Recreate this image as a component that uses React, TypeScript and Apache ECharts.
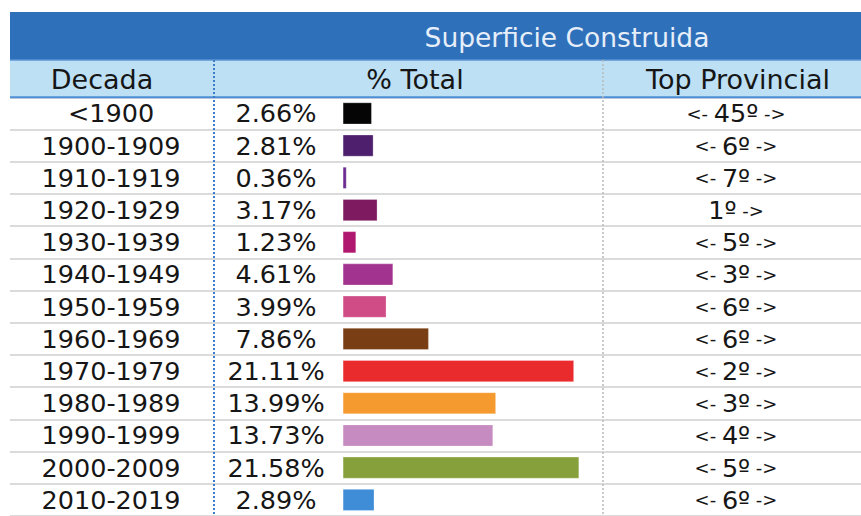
import React, { useEffect, useRef } from "react";
import * as echarts from "echarts";

const decades = [
  "<1900", "1900-1909", "1910-1919", "1920-1929", "1930-1939", "1940-1949",
  "1950-1959", "1960-1969", "1970-1979", "1980-1989", "1990-1999", "2000-2009", "2010-2019",
];
const shares = [2.66, 2.81, 0.36, 3.17, 1.23, 4.61, 3.99, 7.86, 21.11, 13.99, 13.73, 21.58, 2.89];
const ranks = [45, 6, 7, 1, 5, 3, 6, 6, 2, 3, 4, 5, 6];
const barColors = [
  "#050505", "#4e1f6c", "#6b2a8f", "#7e1b60", "#b0176f", "#a2338e", "#cf4c87",
  "#7a3e14", "#ea2b2e", "#f59a2e", "#c68bc0", "#86a13b", "#3e8dd6",
];
const headerTitle = "Superficie Construida";
const columnTitles = ["Decada", "% Total", "Top Provincial"];

const W = 861;
const H = 516;
const FONT = "DejaVu Sans";

export default function App() {
  const ref = useRef<HTMLDivElement>(null);

  useEffect(() => {
    if (!ref.current) return;
    const chart = echarts.init(ref.current, null, { renderer: "svg" });

    const tableLeft = 10;
    const headerBottom = 97.3;
    const rowH = 32.66;
    const zeroX = 342.7;
    const pxPerPct = 10.96;
    const gridWidth = W - tableLeft;
    const xMin = -(zeroX - tableLeft) / pxPerPct;
    const xMax = (W - zeroX) / pxPerPct;

    const pctLabels = shares.map((v) => v.toFixed(2) + "%");
    const textColor = "#161616";

    const option: any = {
      animation: false,
      backgroundColor: "#ffffff",
      grid: {
        left: tableLeft,
        top: headerBottom,
        width: gridWidth,
        height: rowH * decades.length,
        containLabel: false,
      },
      xAxis: {
        type: "value",
        min: xMin,
        max: xMax,
        show: false,
      },
      yAxis: [
        {
          type: "category",
          data: decades,
          inverse: true,
          position: "left",
          axisLine: { show: false },
          axisTick: { show: false, interval: 0 },
          splitLine: { show: true, interval: 0, lineStyle: { color: "#cfcfcf", width: 1.5 } },
          axisLabel: {
            inside: true,
            interval: 0,
            hideOverlap: false,
            margin: 111 - tableLeft,
            align: "center",
            fontFamily: FONT,
            fontSize: 25.5,
            color: textColor,
          },
        },
        {
          type: "category",
          data: pctLabels,
          inverse: true,
          position: "left",
          axisLine: { show: false },
          axisTick: { show: false },
          splitLine: { show: false },
          axisLabel: {
            inside: true,
            interval: 0,
            hideOverlap: false,
            margin: 276 - tableLeft,
            align: "center",
            fontFamily: FONT,
            fontSize: 25.5,
            color: textColor,
          },
        },
        {
          type: "category",
          data: ranks.map((r) => String(r)),
          inverse: true,
          position: "right",
          axisLine: { show: false },
          axisTick: { show: false },
          splitLine: { show: false },
          axisLabel: {
            inside: true,
            interval: 0,
            hideOverlap: false,
            margin: W - 736,
            align: "center",
            formatter: (val: string) =>
              val === "1" ? "{n|1º}{a| ->}" : "{a|<- }{n|" + val + "º}{a| ->}",
            rich: {
              a: { fontFamily: FONT, fontSize: 18, color: textColor },
              n: { fontFamily: FONT, fontSize: 25.5, color: textColor },
            },
          },
        },
      ],
      series: [
        {
          type: "bar",
          yAxisIndex: 0,
          barWidth: 22,
          data: shares.map((v, i) => ({
            value: v,
            itemStyle: { color: barColors[i], borderColor: "rgba(255,255,255,0.35)", borderWidth: 0.8 },
          })),
          z: 3,
        },
      ],
      graphic: [
        {
          type: "rect",
          shape: { x: tableLeft, y: 12, width: W - tableLeft, height: 48 },
          style: { fill: "#2f70ba" },
          z: 10,
        },
        {
          type: "rect",
          shape: { x: tableLeft, y: 60, width: W - tableLeft, height: headerBottom - 60 },
          style: { fill: "#bde0f5" },
          z: 10,
        },
        {
          type: "line",
          shape: { x1: tableLeft, y1: 60, x2: W, y2: 60 },
          style: { stroke: "#5b95d2", lineWidth: 1.5 },
          z: 11,
        },
        {
          type: "line",
          shape: { x1: tableLeft, y1: headerBottom, x2: W, y2: headerBottom },
          style: { stroke: "#4e8fd6", lineWidth: 2 },
          z: 11,
        },
        {
          type: "line",
          shape: { x1: 214, y1: 60, x2: 214, y2: H },
          style: { stroke: "#3b7dc8", lineWidth: 2, lineDash: [2, 2] },
          z: 12,
        },
        {
          type: "line",
          shape: { x1: 603, y1: 60, x2: 603, y2: H },
          style: { stroke: "#b9b9b9", lineWidth: 1.5, lineDash: [2, 2] },
          z: 12,
        },
        {
          type: "text",
          x: 567,
          y: 37,
          style: {
            text: headerTitle,
            fontFamily: FONT,
            fontSize: 26.5,
            fill: "#e6eef9",
            align: "center",
            verticalAlign: "middle",
          },
          z: 13,
        },
        {
          type: "text",
          x: 102,
          y: 79,
          style: {
            text: columnTitles[0],
            fontFamily: FONT,
            fontSize: 27,
            fill: textColor,
            align: "center",
            verticalAlign: "middle",
          },
          z: 13,
        },
        {
          type: "text",
          x: 415,
          y: 79,
          style: {
            text: columnTitles[1],
            fontFamily: FONT,
            fontSize: 27,
            fill: textColor,
            align: "center",
            verticalAlign: "middle",
          },
          z: 13,
        },
        {
          type: "text",
          x: 738,
          y: 79,
          style: {
            text: columnTitles[2],
            fontFamily: FONT,
            fontSize: 27,
            fill: textColor,
            align: "center",
            verticalAlign: "middle",
          },
          z: 13,
        },
      ],
    };

    chart.setOption(option);
    return () => chart.dispose();
  }, []);

  return (
    <div
      ref={ref}
      style={{ position: "fixed", left: 0, top: 0, width: W, height: H, background: "#fff" }}
    />
  );
}
